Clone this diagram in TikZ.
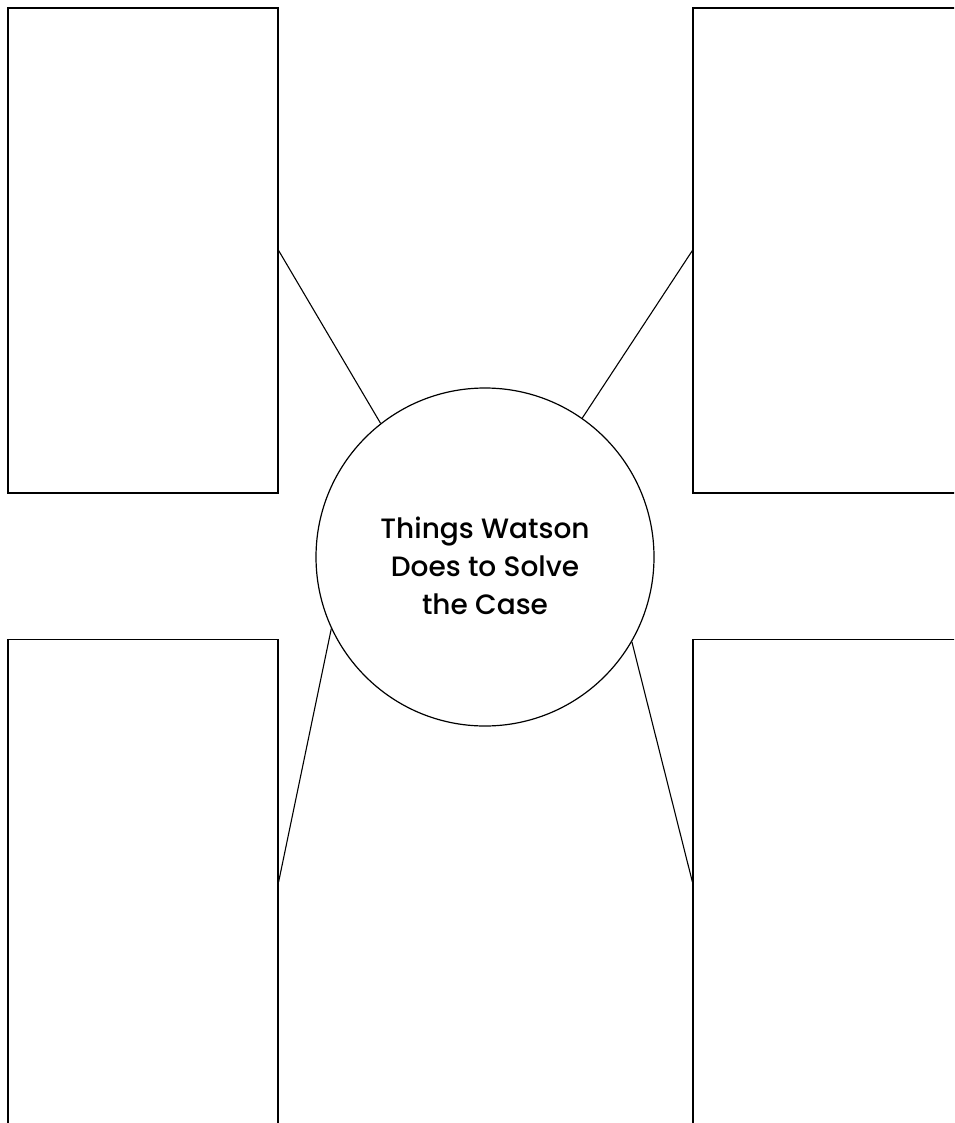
\documentclass[tikz,border=0pt]{standalone}
\usepackage{fontspec}
\setmainfont{Poppins}[UprightFont=* Medium]
\usepackage{tikz}

\begin{document}
\begin{tikzpicture}[
  x=1pt, y=-1pt,
  font=\fontsize{28}{38}\selectfont,
  panel/.style={draw, line width=1.2pt, minimum width=270pt,
                minimum height=485pt, inner sep=0pt},
  hub/.style={draw, circle, line width=1.2pt, minimum size=338pt,
              inner sep=0pt},
  title/.style={align=center, inner sep=0pt},
  link/.style={line width=1.1pt}
]
\useasboundingbox (0,0) rectangle (954,1123);
\clip (0,0) rectangle (954,1123);
\node[panel] (tl) at (143,250.5) {};
\node[panel] (tr) at (828,250.5) {};
\node[panel] (bl) at (143,882) {};
\node[panel] (br) at (828,882) {};
\node[hub] (hub) at (485,557) {};
\node[title] (what) at (485,566) {Things Watson\\Does to Solve\\the Case};
\draw[link] (tl.east)--(hub.128);
\draw[link] (tr.west)--(hub.55);
\draw[link] (bl.east)--(hub.205);
\draw[link] (br.west)--(hub.330);
\end{tikzpicture}
\end{document}
